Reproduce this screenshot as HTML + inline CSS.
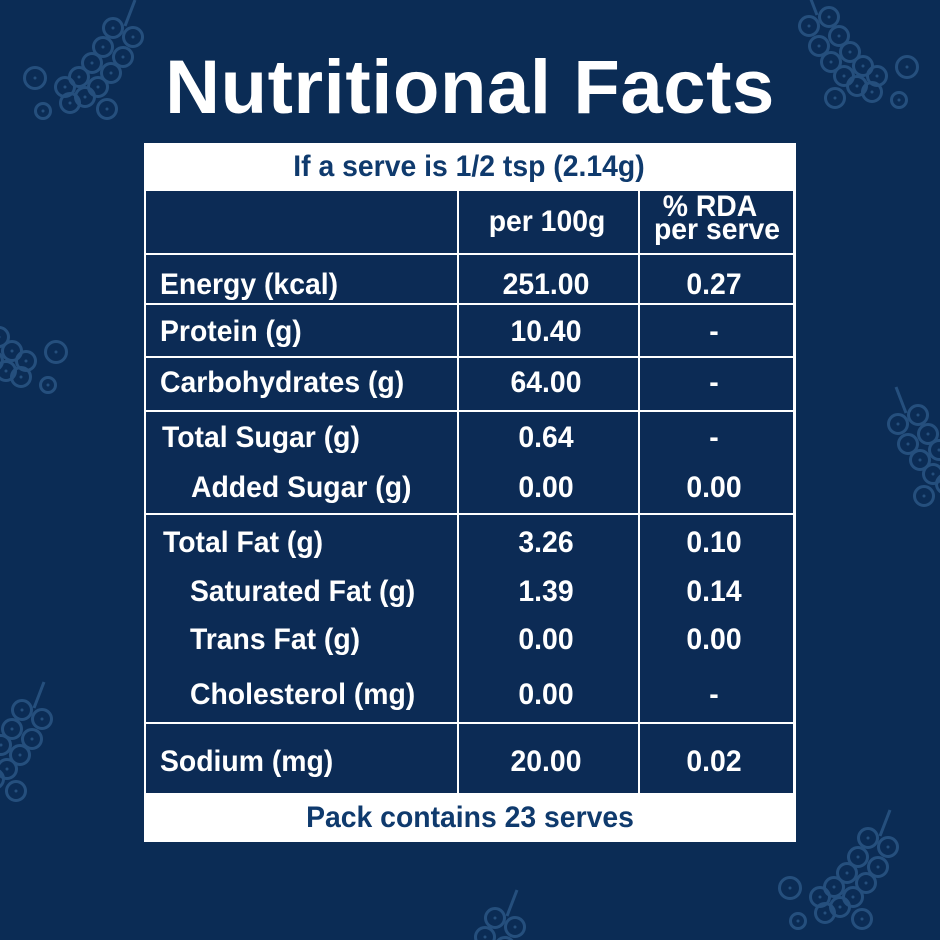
<!DOCTYPE html>
<html>
<head>
<meta charset="utf-8">
<style>
  html,body{margin:0;padding:0;width:940px;height:940px;overflow:hidden;}
  body{background:#0b2c55;position:relative;font-family:"Liberation Sans",Arial,sans-serif;}
  .deco{position:absolute;left:0;top:0;display:block;overflow:hidden;}
  .title{position:absolute;left:0;width:940px;top:50px;text-align:center;color:#fff;font-weight:bold;font-size:76px;line-height:76px;letter-spacing:0.6px;white-space:nowrap;}
  .tbl{position:absolute;left:144px;top:143px;width:652px;height:699px;background:#fff;}
  .c{position:absolute;background:#0c2b55;}
  .t{position:absolute;font-weight:bold;font-size:30px;line-height:30px;color:#fff;white-space:nowrap;}
  .l{transform:scaleX(.945);transform-origin:0 0;}
  .m{width:400px;text-align:center;transform:scaleX(.945);transform-origin:50% 0;}
  .b{color:#0f3a6d;}
</style>
</head>
<body>
<svg class="deco" width="940" height="940" viewBox="0 0 940 940">
  <defs>
    <clipPath id="cp"><rect x="0" y="0" width="940" height="940"/></clipPath>
    <g id="gr" fill="none" stroke="#2a5685" stroke-width="3" opacity="0.85">
      <line x1="22" y1="-28" x2="12" y2="-2"/>
      <circle cx="0" cy="0" r="9.5"/><circle cx="20" cy="9" r="9.5"/>
      <circle cx="-10" cy="19" r="9.5"/><circle cx="10" cy="29" r="9.5"/>
      <circle cx="-21" cy="35" r="9.5"/><circle cx="-2" cy="45" r="9.5"/>
      <circle cx="-34" cy="49" r="9.5"/><circle cx="-15" cy="59" r="9.5"/>
      <circle cx="-48" cy="59" r="9.5"/><circle cx="-28" cy="69" r="9.5"/>
      <circle cx="-43" cy="75" r="9.5"/><circle cx="-6" cy="81" r="9.5"/>
      <circle cx="-78" cy="50" r="10.5"/><circle cx="-70" cy="83" r="7.5"/>
      <g fill="#2a5685" stroke="none">
        <circle cx="0" cy="0" r="1.5"/><circle cx="20" cy="9" r="1.5"/>
        <circle cx="-10" cy="19" r="1.5"/><circle cx="10" cy="29" r="1.5"/>
        <circle cx="-21" cy="35" r="1.5"/><circle cx="-2" cy="45" r="1.5"/>
        <circle cx="-34" cy="49" r="1.5"/><circle cx="-15" cy="59" r="1.5"/>
        <circle cx="-48" cy="59" r="1.5"/><circle cx="-28" cy="69" r="1.5"/>
        <circle cx="-43" cy="75" r="1.5"/><circle cx="-6" cy="81" r="1.5"/>
        <circle cx="-78" cy="50" r="1.5"/><circle cx="-70" cy="83" r="1.5"/>
      </g>
    </g>
  </defs>
  <g clip-path="url(#cp)">
    <use href="#gr" transform="translate(113,28)"/>
    <use href="#gr" transform="translate(829,17) scale(-1,1)"/>
    <use href="#gr" transform="translate(868,838)"/>
    <use href="#gr" transform="translate(-22,302) scale(-1,1)"/>
    <use href="#gr" transform="translate(918,415) scale(-1,1)"/>
    <use href="#gr" transform="translate(22,710)"/>
    <use href="#gr" transform="translate(495,918)"/>
  </g>
</svg>

<div class="title">Nutritional Facts</div>

<div class="tbl"></div>
<!-- header row -->
<div class="c" style="left:146px;top:191px;width:311px;height:62px"></div>
<div class="c" style="left:459px;top:191px;width:179px;height:62px"></div>
<div class="c" style="left:640px;top:191px;width:153px;height:62px"></div>
<!-- row energy -->
<div class="c" style="left:146px;top:255px;width:311px;height:48px"></div>
<div class="c" style="left:459px;top:255px;width:179px;height:48px"></div>
<div class="c" style="left:640px;top:255px;width:153px;height:48px"></div>
<!-- protein -->
<div class="c" style="left:146px;top:305px;width:311px;height:51px"></div>
<div class="c" style="left:459px;top:305px;width:179px;height:51px"></div>
<div class="c" style="left:640px;top:305px;width:153px;height:51px"></div>
<!-- carbs -->
<div class="c" style="left:146px;top:358px;width:311px;height:52px"></div>
<div class="c" style="left:459px;top:358px;width:179px;height:52px"></div>
<div class="c" style="left:640px;top:358px;width:153px;height:52px"></div>
<!-- sugar -->
<div class="c" style="left:146px;top:412px;width:311px;height:101px"></div>
<div class="c" style="left:459px;top:412px;width:179px;height:101px"></div>
<div class="c" style="left:640px;top:412px;width:153px;height:101px"></div>
<!-- fat -->
<div class="c" style="left:146px;top:515px;width:311px;height:207px"></div>
<div class="c" style="left:459px;top:515px;width:179px;height:207px"></div>
<div class="c" style="left:640px;top:515px;width:153px;height:207px"></div>
<!-- sodium -->
<div class="c" style="left:146px;top:724px;width:311px;height:69px"></div>
<div class="c" style="left:459px;top:724px;width:179px;height:69px"></div>
<div class="c" style="left:640px;top:724px;width:153px;height:69px"></div>

<!-- header texts (centered: left = cx - 200) -->
<div class="t m b" style="left:269px;top:151.6px">If a serve is 1/2 tsp (2.14g)</div>
<div class="t m" style="left:347px;top:206.6px">per 100g</div>
<div class="t m" style="left:510px;top:191.6px">% RDA</div>
<div class="t m" style="left:517px;top:214.6px">per serve</div>

<!-- labels -->
<div class="t l" style="left:160px;top:269.6px">Energy (kcal)</div>
<div class="t l" style="left:160px;top:316.6px">Protein (g)</div>
<div class="t l" style="left:160px;top:367.6px">Carbohydrates (g)</div>
<div class="t l" style="left:162px;top:422.6px">Total Sugar (g)</div>
<div class="t l" style="left:191px;top:472.6px">Added Sugar (g)</div>
<div class="t l" style="left:163px;top:527.6px">Total Fat (g)</div>
<div class="t l" style="left:190px;top:576.6px">Saturated Fat (g)</div>
<div class="t l" style="left:190px;top:624.6px">Trans Fat (g)</div>
<div class="t l" style="left:190px;top:679.6px">Cholesterol (mg)</div>
<div class="t l" style="left:160px;top:746.6px">Sodium (mg)</div>

<!-- per 100g (center 546) -->
<div class="t m" style="left:346px;top:269.6px">251.00</div>
<div class="t m" style="left:346px;top:316.6px">10.40</div>
<div class="t m" style="left:346px;top:367.6px">64.00</div>
<div class="t m" style="left:346px;top:422.6px">0.64</div>
<div class="t m" style="left:346px;top:472.6px">0.00</div>
<div class="t m" style="left:346px;top:527.6px">3.26</div>
<div class="t m" style="left:346px;top:576.6px">1.39</div>
<div class="t m" style="left:346px;top:624.6px">0.00</div>
<div class="t m" style="left:346px;top:679.6px">0.00</div>
<div class="t m" style="left:346px;top:746.6px">20.00</div>

<!-- % RDA (center 714) -->
<div class="t m" style="left:514px;top:269.6px">0.27</div>
<div class="t m" style="left:514px;top:316.6px">-</div>
<div class="t m" style="left:514px;top:367.6px">-</div>
<div class="t m" style="left:514px;top:422.6px">-</div>
<div class="t m" style="left:514px;top:472.6px">0.00</div>
<div class="t m" style="left:514px;top:527.6px">0.10</div>
<div class="t m" style="left:514px;top:576.6px">0.14</div>
<div class="t m" style="left:514px;top:624.6px">0.00</div>
<div class="t m" style="left:514px;top:679.6px">-</div>
<div class="t m" style="left:514px;top:746.6px">0.02</div>

<!-- footer -->
<div class="t m b" style="left:270px;top:802.6px">Pack contains 23 serves</div>
</body>
</html>
